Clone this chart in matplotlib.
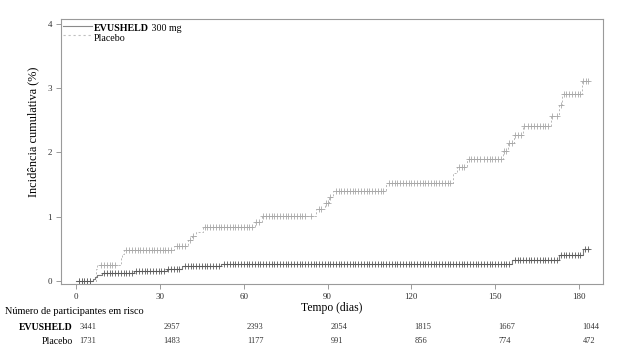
import numpy as np
import matplotlib
matplotlib.use("Agg")
import matplotlib.pyplot as plt
from matplotlib.lines import Line2D
from matplotlib.transforms import blended_transform_factory

plt.rcParams['font.family'] = ['Liberation Serif', 'DejaVu Serif']

# ---------------- data ----------------
# Step functions: event day and cumulative incidence (%) after the event
placebo_days = [0, 7, 7.5, 16, 16.5, 17, 35, 40, 41.5, 43, 45.5, 64, 66.5, 86, 89, 90.5, 92,
                111, 135, 136.5, 140, 152.7, 154.5, 156.7, 160, 170, 173, 174, 181]
placebo_inc = [0, 0.19, 0.25, 0.36, 0.42, 0.48, 0.54, 0.64, 0.70, 0.76, 0.84, 0.92, 1.01, 1.12, 1.21, 1.31, 1.40,
               1.52, 1.68, 1.77, 1.90, 2.02, 2.15, 2.27, 2.41, 2.57, 2.74, 2.91, 3.11]
placebo_end = 183.6

evusheld_days = [0, 6, 6.7, 7.5, 9.3, 20.8, 32.6, 38, 52, 156, 172.8, 181.5]
evusheld_inc = [0, 0.03, 0.06, 0.09, 0.12, 0.15, 0.19, 0.24, 0.27, 0.33, 0.41, 0.50]
evusheld_end = 183.6

# Censoring marks (days)
placebo_censor = [1, 2, 3, 4, 5,
                  9, 10, 11, 12, 13, 14,
                  18, 19, 20, 21, 22, 23, 24, 25, 26, 27, 28, 29, 30, 31, 32, 33, 34,
                  36, 37, 38, 39,
                  40.8, 42,
                  46, 47, 48, 49, 50, 51, 52, 53, 54, 55, 56, 57, 58, 59, 60, 61, 62, 63,
                  64.5, 65.5,
                  67, 68, 69, 70, 71, 72, 73, 74, 75, 76, 77, 78, 79, 80, 81, 82, 84,
                  86.8, 87.8, 89.5, 90, 91,
                  93, 94, 95, 96, 97, 98, 99, 100, 101, 102, 103, 104, 105, 106, 107, 108, 109, 110,
                  112, 113, 114, 115, 116, 117, 118, 119, 120, 121, 122, 123, 124, 125, 126, 127,
                  128, 129, 130, 131, 132, 133, 134,
                  137, 138, 139,
                  140.5, 141.5, 142.5, 143.5, 144.5, 146, 147, 148, 149, 150, 151, 152,
                  153.2, 154,
                  155, 156,
                  157.2, 158.3, 159.4,
                  160.5, 161.6, 163, 164, 165, 166, 167, 168, 169,
                  170.5, 172,
                  173.4,
                  174.5, 175.5, 176.5, 177.5, 178.5, 179.5, 180.4,
                  181.5, 182.4, 183.2]

evusheld_censor = [1, 2, 3, 4, 5,
                   10, 11, 12, 13, 14, 15, 16, 17, 18, 19, 20,
                   21.5, 22.5, 23.5, 24.5, 25.5, 26.5, 27.5, 28.5, 29.5, 30.5, 31.5,
                   33, 34, 35, 36, 37,
                   39, 40, 41, 42, 43, 44, 45, 46, 47, 48, 49, 50, 51,
                   53, 54, 55, 56, 57, 58, 59, 60, 61, 62, 63, 64, 65, 66, 67, 68, 69, 70,
                   71, 72, 73, 74, 75, 76, 77, 78, 79, 80, 81, 82, 83, 84, 85, 86, 87, 88,
                   89, 90, 91, 92, 93, 94, 95, 96, 97, 98, 99, 100, 101, 102, 103, 104, 105,
                   106, 107, 108, 109, 110, 111, 112, 113, 114, 115, 116, 117, 118, 119, 120,
                   121, 122, 123, 124, 125, 126, 127, 128, 129, 130, 131, 132, 133, 134, 135,
                   136, 137, 138, 139, 140, 141, 142, 143, 144, 145, 146, 147, 148, 149, 150,
                   151, 152, 153, 154, 155,
                   157, 158, 159, 160, 161, 162, 163, 164, 165, 166, 167, 168, 169, 170, 171, 172,
                   173.5, 174.5, 175.5, 176.5, 177.5, 178.5, 179.5, 180.5,
                   182.3, 183.1]

risk_days = [0, 30, 60, 90, 120, 150, 180]
risk_evusheld = [3441, 2957, 2393, 2054, 1815, 1667, 1044]
risk_placebo = [1731, 1483, 1177, 991, 856, 774, 472]

x_ticks = [0, 30, 60, 90, 120, 150, 180]
y_ticks = [0, 1, 2, 3, 4]

# ---------------- figure ----------------
W, H = 617, 357
fig = plt.figure(figsize=(W / 100, H / 100), dpi=100)
ax = fig.add_axes([61 / W, 1 - 284 / H, (603 - 61) / W, (284 - 19) / H])

spine_c = '#9a9a9a'
ev_c = '#5a5a5a'
pl_c = '#b8b8b8'


def step_value(days, inc, t):
    idx = np.searchsorted(np.asarray(days), np.asarray(t), side='right') - 1
    return np.asarray(inc)[idx]


# placebo
pd_ = list(placebo_days) + [placebo_end]
pi_ = list(placebo_inc) + [placebo_inc[-1]]
ax.step(pd_, pi_, where='post', color=pl_c, lw=0.7, ls=(0, (2, 2)))
ax.plot(placebo_censor, step_value(placebo_days, placebo_inc, placebo_censor),
        ls='none', marker='+', ms=4, mew=0.6, color='#a8a8a8')

# evusheld
ed_ = list(evusheld_days) + [evusheld_end]
ei_ = list(evusheld_inc) + [evusheld_inc[-1]]
ax.step(ed_, ei_, where='post', color='#7a7a7a', lw=0.8)
ax.plot(evusheld_censor, step_value(evusheld_days, evusheld_inc, evusheld_censor),
        ls='none', marker='+', ms=4, mew=0.6, color=ev_c)

ax.set_xlim(-5.4, 188.6)
ax.set_ylim(-0.047, 4.075)
ax.set_xticks(x_ticks)
ax.set_yticks(y_ticks)
ax.tick_params(axis='both', direction='out', length=3.5, width=0.7, color=spine_c,
               labelsize=6.5, labelcolor='#333333', pad=3)
for s in ax.spines.values():
    s.set_color(spine_c)
    s.set_linewidth(0.8)

ax.set_xlabel('Tempo (dias)', fontsize=8.4, labelpad=1)
ax.set_ylabel('Incidência cumulativa (%)', fontsize=8.8)
ax.yaxis.set_label_coords(-0.040, 0.574)

# legend (manual, to allow partial bold)
ax.add_line(Line2D([0.004, 0.057], [0.972, 0.972], transform=ax.transAxes,
                   color='#8a8a8a', lw=0.8))
ax.add_line(Line2D([0.004, 0.057], [0.940, 0.940], transform=ax.transAxes,
                   color='#c0c0c0', lw=0.8, ls=(0, (2, 2.5))))
t1 = ax.text(0.06, 0.966, 'EVUSHELD', transform=ax.transAxes, fontsize=7.2,
             fontweight='bold', va='center', ha='left')
ax.annotate(' 300 mg', xy=(1, 0.5), xycoords=t1, va='center', ha='left', fontsize=7.2)
ax.text(0.06, 0.928, 'Placebo', transform=ax.transAxes, fontsize=7.2, va='center', ha='left')

# risk table
fig.text(5 / W, 1 - 312 / H, 'Número de participantes em risco', fontsize=7.4,
         ha='left', va='center')
tr = blended_transform_factory(ax.transData, fig.transFigure)
y_ev = 1 - 327 / H
y_pl = 1 - 341 / H
fig.text(73 / W, y_ev, 'EVUSHELD', fontsize=7, fontweight='bold', ha='right', va='center')
fig.text(73 / W, y_pl, 'Placebo', fontsize=7, ha='right', va='center')
for d, a, b in zip(risk_days, risk_evusheld, risk_placebo):
    ax.text(d + 1.2, y_ev, str(a), transform=tr, fontsize=6, ha='left', va='center',
            color='#333333', clip_on=False)
    ax.text(d + 1.2, y_pl, str(b), transform=tr, fontsize=6, ha='left', va='center',
            color='#333333', clip_on=False)

fig.savefig('out.png', dpi=100)
